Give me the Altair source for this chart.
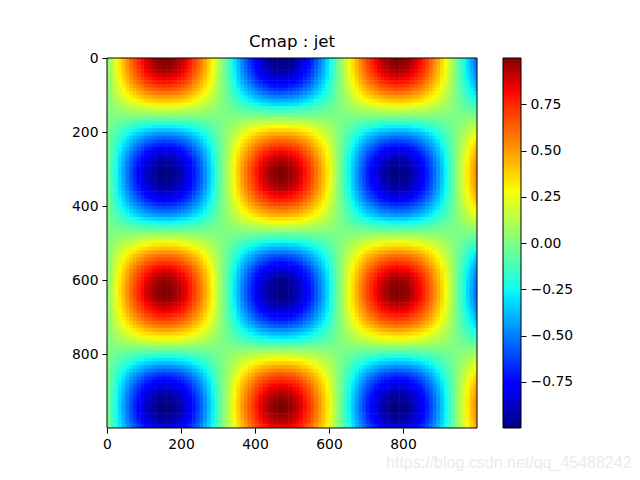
import altair as alt
import numpy as np
import pandas as pd

alt.data_transformers.disable_max_rows()

TITLE = "Cmap : jet"
WATERMARK = "https://blog.csdn.net/qq_45488242"
AXIS_TICKS = [0, 200, 400, 600, 800]
CBAR_TICKS = [-0.75, -0.5, -0.25, 0, 0.25, 0.5, 0.75]
STEP = 10  # image units per heatmap cell

# Horizontal profile along the top row of the image
col_profile = [
    .05, .15, .25, .34, .43, .52, .61, .68, .75, .81,
    .87, .91, .95, .98, .99, 1.0, 1.0, .98, .96, .93,
    .89, .84, .78, .71, .64, .56, .47, .38, .29, .19,
    .09, -.01, -.11, -.21, -.30, -.40, -.49, -.57, -.65, -.72,
    -.79, -.85, -.90, -.93, -.97, -.99, -1.0, -1.0, -.99, -.97,
    -.94, -.91, -.86, -.80, -.74, -.67, -.59, -.51, -.42, -.33,
    -.23, -.13, -.03, .07, .17, .27, .36, .45, .54, .62,
    .70, .76, .82, .88, .92, .95, .98, .99, 1.0, .99,
    .98, .96, .92, .88, .83, .77, .70, .62, .54, .46,
    .37, .27, .17, .07, -.03, -.13, -.23, -.32, -.42, -.51,
]
# Vertical profile down the column at x = 157
row_profile = [
    1.0, .99, .97, .94, .90, .85, .80, .73, .66, .58,
    .50, .41, .32, .22, .12, .02, -.08, -.18, -.28, -.37,
    -.46, -.55, -.63, -.70, -.77, -.83, -.88, -.92, -.96, -.98,
    -1.0, -1.0, -.99, -.98, -.95, -.92, -.87, -.82, -.76, -.69,
    -.61, -.53, -.45, -.35, -.26, -.16, -.06, .04, .14, .24,
    .33, .42, .51, .60, .67, .74, .81, .86, .91, .95,
    .97, .99, 1.0, 1.0, .99, .97, .93, .89, .84, .78,
    .72, .65, .57, .48, .39, .30, .20, .10, 0.0, -.10,
    -.20, -.30, -.39, -.48, -.56, -.65, -.72, -.78, -.84, -.89,
    -.92, -.96, -.98, -1.0, -1.0, -.99, -.97, -.95, -.91, -.87,
]

# jet colormap breakpoints
jet_pos = [0, .11, .125, .34, .35, .375, .64, .65, .66, .89, .91, 1]
jet_r = [0, 0, 0, 0, 0, .0625, .98, .99, 1, 1, 1, .5]
jet_g = [0, 0, 0, .86, .9, 1, 1, .96, .92, .1, 0, 0]
jet_b = [.5, 1, 1, 1, 1, .94, .03, 0, 0, 0, 0, 0]
jet_colors = [
    "#%02x%02x%02x" % (round(r * 255), round(g * 255), round(b * 255))
    for r, g, b in zip(jet_r, jet_g, jet_b)
]
jet_domain = [p * 2 - 1 for p in jet_pos]
color_scale = alt.Scale(domain=jet_domain, range=jet_colors, clamp=True, interpolate="rgb")

rows = []
for j, rv in enumerate(row_profile):
    for i, cv in enumerate(col_profile):
        rows.append({
            "x": i * STEP,
            "x2": i * STEP + STEP * 1.15,
            "y": j * STEP,
            "y2": j * STEP + STEP * 1.15,
            "z": round(cv * rv, 4),
        })
cells = pd.DataFrame(rows)

FONT = "DejaVu Sans"
xscale = alt.Scale(domain=[0, 1000], nice=False)
yscale = alt.Scale(domain=[0, 1000], nice=False, reverse=True)
xaxis = alt.Axis(values=AXIS_TICKS, title=None)
yaxis = alt.Axis(values=AXIS_TICKS, title=None)

heat = alt.Chart(cells).mark_rect(clip=True, strokeWidth=0).encode(
    x=alt.X("x:Q", scale=xscale, axis=xaxis),
    x2="x2:Q",
    y=alt.Y("y:Q", scale=yscale, axis=yaxis),
    y2="y2:Q",
    color=alt.Color("z:Q", scale=color_scale, legend=None),
)
frame = alt.Chart(pd.DataFrame({"a": [0], "b": [1000]})).mark_rect(
    fillOpacity=0, stroke="black", strokeWidth=1
).encode(
    x=alt.X("a:Q", scale=xscale, axis=xaxis),
    x2="b:Q",
    y=alt.Y("a:Q", scale=yscale, axis=yaxis),
    y2="b:Q",
)
main = alt.layer(heat, frame).properties(
    width=370,
    height=370,
    title=alt.TitleParams(TITLE, font=FONT, fontSize=16.67, fontWeight="normal",
                          color="black", anchor="middle", offset=0),
)

levels = np.linspace(-1, 1, 257)
bar = pd.DataFrame({"lo": levels[:-1], "hi": levels[1:] + 0.004,
                    "z": (levels[:-1] + levels[1:]) / 2})
cbar_y = alt.Scale(domain=[-1, 1], nice=False)
cbar_axis = alt.Axis(
    orient="right", values=CBAR_TICKS, title=None,
    labelExpr="replace(format(datum.value, '.2f'), '-', '\u2212')",
)
cbar_rect = alt.Chart(bar).mark_rect(clip=True, strokeWidth=0).encode(
    x=alt.value(0),
    x2=alt.value(18),
    y=alt.Y("lo:Q", scale=cbar_y, axis=cbar_axis),
    y2="hi:Q",
    color=alt.Color("z:Q", scale=color_scale, legend=None),
)
cbar_frame = alt.Chart(pd.DataFrame({"a": [-1], "b": [1]})).mark_rect(
    fillOpacity=0, stroke="black", strokeWidth=1
).encode(
    x=alt.value(0),
    x2=alt.value(18),
    y=alt.Y("a:Q", scale=cbar_y, axis=cbar_axis),
    y2="b:Q",
)
cbar = alt.layer(cbar_rect, cbar_frame).properties(width=18, height=370)

chart = alt.hconcat(main, cbar, spacing=24).properties(
    padding={"left": 63, "top": 26, "right": 0, "bottom": 0},
    title=alt.TitleParams(WATERMARK, orient="bottom", anchor="end", frame="bounds",
                          font="Liberation Sans", fontSize=16, fontWeight="normal",
                          color="#ebebeb", dx=59, offset=4),
).resolve_scale(color="shared").configure_view(stroke=None).configure_axis(
    grid=False,
    domain=False,
    labelFont=FONT,
    labelFontSize=13.9,
    labelColor="black",
    tickColor="black",
    tickSize=5,
    tickWidth=1,
    labelPadding=4,
    labelFlush=False,
    labelOverlap=False,
)

chart.save("out.html", embed_options={"renderer": "svg", "actions": False})
